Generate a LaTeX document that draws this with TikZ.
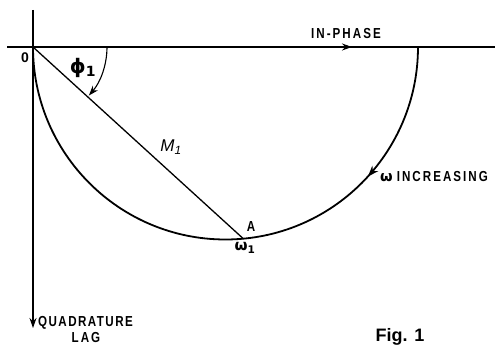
\documentclass[tikz,border=0pt]{standalone}
\usepackage{fontspec}
\setmainfont{Liberation Sans}
\newfontfamily\labfont[FakeStretch=0.8,LetterSpace=14]{Liberation Sans}
\newfontfamily\labfontb[FakeStretch=0.8,LetterSpace=10]{Liberation Sans}
\newfontfamily\grk{DejaVu Sans}
\usetikzlibrary{arrows.meta,decorations.markings,calc}
\tikzset{
  axis/.style={line width=1.1pt},
  curve/.style={line width=1.8pt},
  lbl/.style={font=\labfont\bfseries\fontsize{14.5}{14.5}\selectfont, inner sep=0pt},
  tip/.style={-{Stealth[length=10pt,width=7pt]}}
}
\begin{document}
\begin{tikzpicture}[x=1pt,y=1pt]
\useasboundingbox (0,0) rectangle (495,345);
% key points
\coordinate (O) at (33,298);
\coordinate (C) at (225.5,298);
\coordinate (E) at (418,298);
\coordinate (Hl) at (7,298);
\coordinate (Hr) at (495,298);
\coordinate (Vt) at (33,335);
\coordinate (Vb) at (33,17);
\coordinate (A) at ($(C)+(-84.7:192.5)$);
% axes
\draw[axis] (Hl) -- (Hr);
\draw[axis,tip] (Hl) -- (352,298);
\draw[axis,tip] (Vt) -- (Vb);
% semicircle with arrow
\draw[curve, postaction={decorate}, decoration={markings, mark=at position 0.235 with {\arrow{Stealth[length=11pt,width=8pt]}}}]
  (E) arc[start angle=0, end angle=-180, radius=192.5];
% vector OA
\draw[line width=1.3pt] (O) -- (A);
% phi arc
\draw[line width=1.1pt,-{Stealth[length=10pt,width=7pt]}] (O) ++(74,0) arc[start angle=0, end angle=-41, radius=74];
% labels
\node[lbl] (inphase) at (346,311.5) {IN-PHASE};
\node[lbl, anchor=west] (winc) at (380,168.5) {{\grk\bfseries ω}\hspace{4pt}INCREASING};
\node[lbl, font=\labfontb\bfseries\fontsize{14.5}{14.5}\selectfont, anchor=west] (quad) at (38,22.5) {QUADRATURE};
\node[lbl] (lag) at (86,7.5) {LAG};
\node[font=\bfseries\fontsize{18}{18}\selectfont, inner sep=0pt] (fig) at (400,8.5) {Fig. 1};
\node[font=\bfseries\fontsize{14}{14}\selectfont, inner sep=0pt] (zero) at (25,287.5) {0};
\node[inner sep=0pt, font=\grk\bfseries\fontsize{20}{20}\selectfont] (phi) at (83,277) {ϕ\textsubscript{1}};
\node[inner sep=0pt, font=\itshape\fontsize{17}{17}\selectfont] (M) at (171,198) {M\textsubscript{1}};
\node[lbl] (Alab) at (251,118) {A};
\node[inner sep=0pt, font=\grk\bfseries\fontsize{15}{15}\selectfont] (w1) at (245,97) {ω\textsubscript{1}};
\end{tikzpicture}
\end{document}
